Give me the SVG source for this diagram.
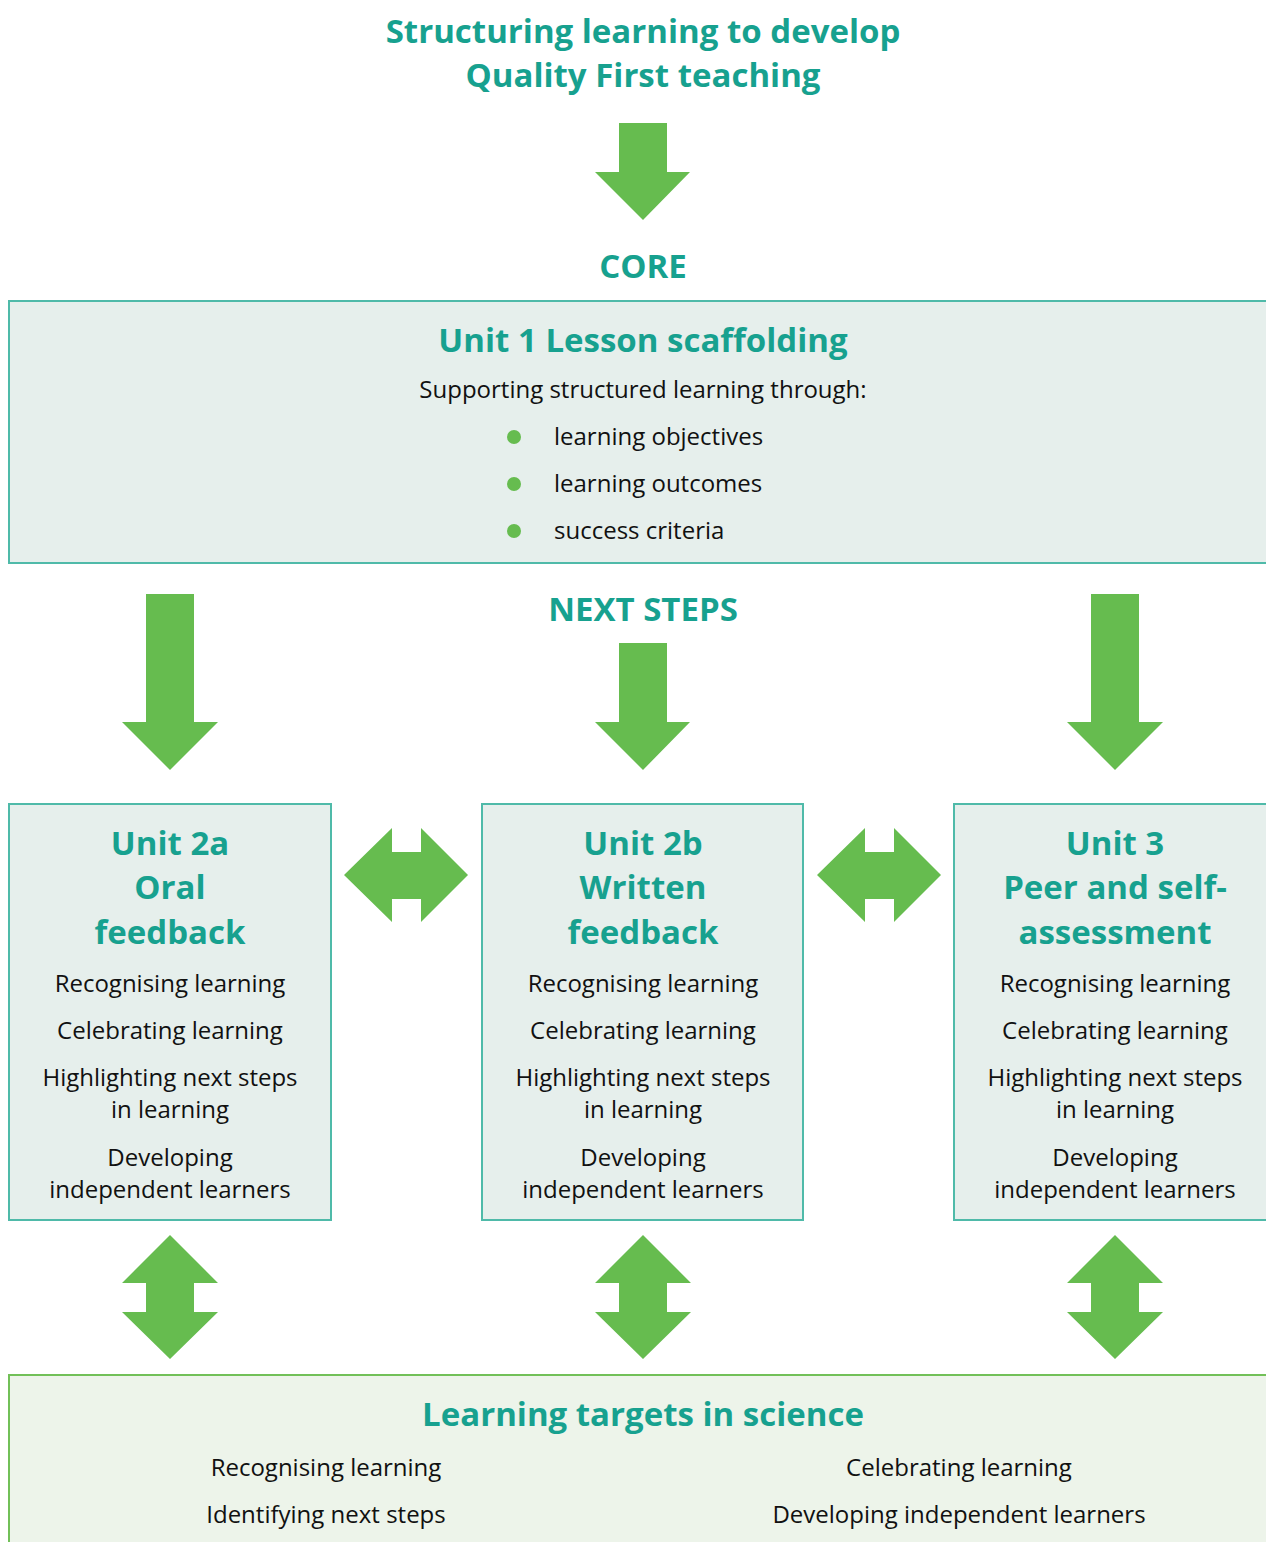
<svg xmlns="http://www.w3.org/2000/svg" width="1266" height="1542" viewBox="0 0 1266 1542">
<style>
.h{font-family:"Open Sans","Noto Sans","Liberation Sans",sans-serif;font-weight:bold;font-size:33px;fill:#17a18f;text-anchor:middle}
.t{font-family:"Open Sans","Noto Sans","Liberation Sans",sans-serif;font-size:24px;fill:#111;text-anchor:middle}
.tl{font-family:"Open Sans","Noto Sans","Liberation Sans",sans-serif;font-size:24px;fill:#111}
.box{fill:#e6efec;stroke:#4fbaa9;stroke-width:2}
.box2{fill:#edf4ea;stroke:#72c058;stroke-width:2}
.arr{fill:#66bc4f}
</style>
<rect width="1266" height="1542" fill="#fff"/>
<g id="title">
<text class="h" x="643" y="43">Structuring learning to develop</text>
<text class="h" x="643" y="87">Quality First teaching</text>
</g>
<g id="core-label"><text class="h" x="643" y="278">CORE</text></g>
<g id="unit1">
<rect class="box" x="9" y="301" width="1270" height="262"/>
<text class="h" x="643" y="352">Unit 1 Lesson scaffolding</text>
<text class="t" x="643" y="398">Supporting structured learning through:</text>
<circle class="arr" cx="514" cy="437" r="7"/>
<circle class="arr" cx="514" cy="484" r="7"/>
<circle class="arr" cx="514" cy="531" r="7"/>
<text class="tl" x="554" y="445">learning objectives</text>
<text class="tl" x="554" y="492">learning outcomes</text>
<text class="tl" x="554" y="539">success criteria</text>
</g>
<g id="next-steps-label"><text class="h" x="643" y="621">NEXT STEPS</text></g>
<g id="unit2a">
<rect class="box" x="9" y="804" width="322" height="416"/>
<text class="h" x="170" y="855">Unit 2a</text>
<text class="h" x="170" y="899">Oral</text>
<text class="h" x="170" y="944">feedback</text>
<text class="t" x="170" y="992">Recognising learning</text>
<text class="t" x="170" y="1039">Celebrating learning</text>
<text class="t" x="170" y="1086">Highlighting next steps</text>
<text class="t" x="170" y="1118">in learning</text>
<text class="t" x="170" y="1166">Developing</text>
<text class="t" x="170" y="1198">independent learners</text>
</g>
<g id="unit2b">
<rect class="box" x="482" y="804" width="321" height="416"/>
<text class="h" x="643" y="855">Unit 2b</text>
<text class="h" x="643" y="899">Written</text>
<text class="h" x="643" y="944">feedback</text>
<text class="t" x="643" y="992">Recognising learning</text>
<text class="t" x="643" y="1039">Celebrating learning</text>
<text class="t" x="643" y="1086">Highlighting next steps</text>
<text class="t" x="643" y="1118">in learning</text>
<text class="t" x="643" y="1166">Developing</text>
<text class="t" x="643" y="1198">independent learners</text>
</g>
<g id="unit3">
<rect class="box" x="954" y="804" width="330" height="416"/>
<text class="h" x="1115" y="855">Unit 3</text>
<text class="h" x="1115" y="899">Peer and self-</text>
<text class="h" x="1115" y="944">assessment</text>
<text class="t" x="1115" y="992">Recognising learning</text>
<text class="t" x="1115" y="1039">Celebrating learning</text>
<text class="t" x="1115" y="1086">Highlighting next steps</text>
<text class="t" x="1115" y="1118">in learning</text>
<text class="t" x="1115" y="1166">Developing</text>
<text class="t" x="1115" y="1198">independent learners</text>
</g>
<g id="targets">
<rect class="box2" x="9" y="1375" width="1280" height="190"/>
<text class="h" x="643" y="1426">Learning targets in science</text>
<text class="t" x="326" y="1476">Recognising learning</text>
<text class="t" x="326" y="1523">Identifying next steps</text>
<text class="t" x="959" y="1476">Celebrating learning</text>
<text class="t" x="959" y="1523">Developing independent learners</text>
</g>
<g id="connectors">
<path class="arr" d="M619,123 H667 V172 H690 L643,220 L595,172 H619 Z"/>
<path class="arr" d="M146,594 H194 V722 H218 L170,770 L122,722 H146 Z"/>
<path class="arr" d="M619,643 H667 V722 H690 L643,770 L595,722 H619 Z"/>
<path class="arr" d="M1091,594 H1139 V722 H1163 L1115,770 L1067,722 H1091 Z"/>
<path class="arr" d="M344,875 L392,828 V852 H421 V828 L468,875 L421,922 V899 H392 V922 Z"/>
<path class="arr" d="M817,875 L865,828 V852 H894 V828 L941,875 L894,922 V899 H865 V922 Z"/>
<path class="arr" d="M170,1235 L218,1283 H194 V1312 H218 L170,1359 L122,1312 H146 V1283 H122 Z"/>
<path class="arr" d="M643,1235 L691,1283 H667 V1312 H691 L643,1359 L595,1312 H619 V1283 H595 Z"/>
<path class="arr" d="M1115,1235 L1163,1283 H1139 V1312 H1163 L1115,1359 L1067,1312 H1091 V1283 H1067 Z"/>
</g>
</svg>
